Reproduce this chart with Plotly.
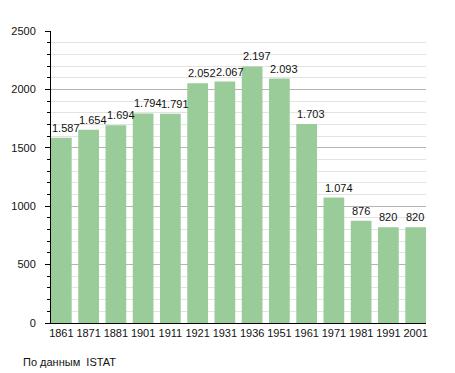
import plotly.graph_objects as go

years = ["1861", "1871", "1881", "1901", "1911", "1921", "1931", "1936",
         "1951", "1961", "1971", "1981", "1991", "2001"]
population = [1587, 1654, 1694, 1794, 1791, 2052, 2067, 2197,
              2093, 1703, 1074, 876, 820, 820]
source_text = "По данным  ISTAT"

# page body has an 8px margin, so the figure is drawn slightly smaller
OFF = 8
W, H = 455 - OFF, 373 - OFF
L, T = 50.7 - OFF, 30.5 - OFF
plot_w = 375.0
plot_h = 292.5
R = W - L - plot_w
B = H - T - plot_h
bar_w = 0.76


def fmt(v):
    return f"{v:,}".replace(",", ".")


fig = go.Figure(go.Bar(
    x=years, y=population,
    marker=dict(color="#99cc99", line=dict(width=0)),
    width=bar_w,
    hoverinfo="x+y",
))

annotations = []
for i, v in enumerate(population):
    annotations.append(dict(
        text=fmt(v), showarrow=False,
        xref="x", yref="y",
        x=i - bar_w / 2, y=v,
        xanchor="left", yanchor="bottom",
        xshift=-1, yshift=2,
        font=dict(size=11, color="#111"),
    ))

annotations.append(dict(
    text=source_text, showarrow=False,
    xref="paper", yref="paper",
    x=(20.7 - OFF - L) / plot_w, y=-(362 - 323) / plot_h,
    xanchor="left", yanchor="middle",
    font=dict(size=11, color="#111"),
))

fig.update_layout(
    width=W, height=H,
    margin=dict(l=L, r=R, t=T, b=B, pad=0, autoexpand=False),
    paper_bgcolor="white", plot_bgcolor="white",
    showlegend=False,
    font=dict(family="Liberation Sans, Arial, sans-serif", size=11, color="#111"),
    xaxis=dict(
        type="category", automargin=False,
        range=[-bar_w / 2, len(years) - 1 + bar_w / 2],
        showline=True, linecolor="black", linewidth=1,
        ticks="", showgrid=False, tickfont=dict(size=11),
    ),
    yaxis=dict(
        automargin=False,
        range=[0, 2500], dtick=500, tick0=0,
        showline=True, linecolor="black", linewidth=1,
        ticks="outside", ticklen=5, tickcolor="black",
        ticklabelstandoff=7,
        gridcolor="#b3b3b3", gridwidth=1, zeroline=False,
        tickfont=dict(size=11),
        minor=dict(dtick=100, showgrid=True, gridcolor="#e3e3e3",
                   ticks="outside", ticklen=3, tickcolor="black"),
    ),
    annotations=annotations,
)

fig.write_html("out.html")
